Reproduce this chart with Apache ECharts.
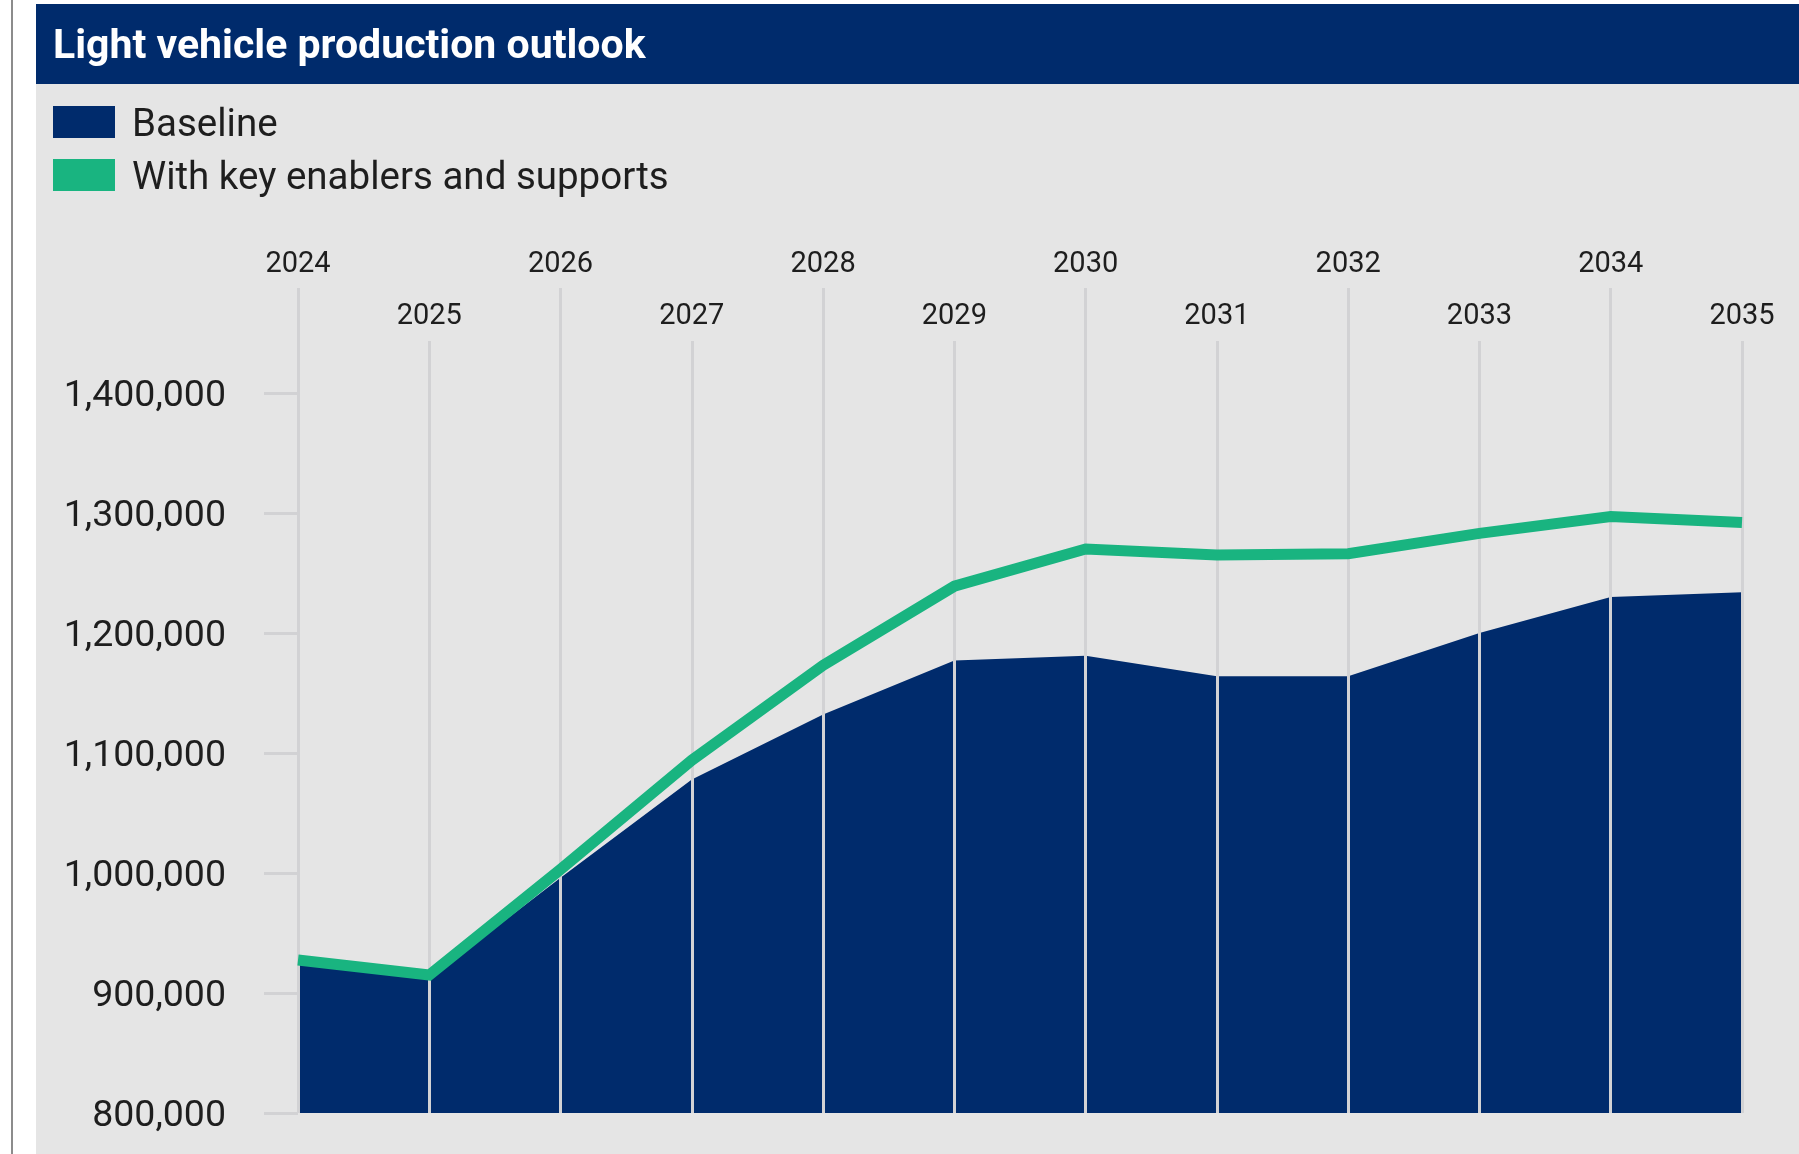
<!DOCTYPE html>
<html>
<head>
<meta charset="utf-8">
<script src="https://cdn.jsdelivr.net/npm/echarts@6/dist/echarts.min.js"></script>
<style>
  html, body { margin: 0; padding: 0; background: #ffffff; }
  #chart { width: 1799px; height: 1154px; }
</style>
</head>
<body>
<div id="chart"></div>
<script>
// ---- data ----
const years = ['2024', '2025', '2026', '2027', '2028', '2029', '2030', '2031', '2032', '2033', '2034', '2035'];
const baseline = [925000, 912000, 996000, 1078000, 1132000, 1177000, 1181000, 1164000, 1164000, 1200000, 1230000, 1234000];
const withEnablers = [927500, 915000, 1003000, 1094000, 1173000, 1239000, 1270000, 1265000, 1266000, 1283000, 1297000, 1292000];
const yMin = 800000;
const yMax = 1400000;
const yStep = 100000;
const seriesNames = ['Baseline', 'With key enablers and supports'];
const titleText = 'Light vehicle production outlook';

// ---- style ----
const NAVY = '#002b6c';
const GREEN = '#19b480';
const PANEL = '#e5e5e5';
const GRIDLINE = '#d2d2d4';
const TEXT = '#1e1e1e';
const FONT = "Roboto, 'Noto Sans', sans-serif";
// legend swatch: 62x32 filled rect sitting in the top of a 62x40 symbol box
const SWATCH = 'path://M0,0h62v32h-62z M0,40h0';

const chart = echarts.init(document.getElementById('chart'), null, { renderer: 'canvas' });

const xLabelBase = {
  fontFamily: FONT,
  fontSize: 29,
  lineHeight: 29,
  color: TEXT
};

const option = {
  backgroundColor: '#ffffff',
  animation: false,
  graphic: [
    { type: 'rect', z: -10, shape: { x: 11, y: 0, width: 2, height: 1154 }, style: { fill: '#8c8c8c' } },
    { type: 'rect', z: -10, shape: { x: 36, y: 4, width: 1763, height: 1150 }, style: { fill: PANEL } },
    { type: 'rect', z: -9, shape: { x: 36, y: 4, width: 1763, height: 80 }, style: { fill: NAVY } }
  ],
  title: {
    text: titleText,
    left: 53,
    top: 27,
    padding: 0,
    textStyle: { color: '#ffffff', fontFamily: FONT, fontWeight: 'bold', fontSize: 41, lineHeight: 41 }
  },
  legend: {
    orient: 'vertical',
    left: 53,
    top: 106,
    padding: 0,
    itemWidth: 62,
    itemHeight: 40,
    itemGap: 13,
    icon: SWATCH,
    itemStyle: { borderWidth: 0 },
    data: seriesNames,
    textStyle: { fontFamily: FONT, fontSize: 38.5, lineHeight: 32, color: TEXT, padding: [0, 0, 0, 12] }
  },
  grid: { left: 298, right: 57, top: 393, bottom: 41 },
  xAxis: [
    {
      type: 'category',
      data: years,
      position: 'top',
      boundaryGap: false,
      z: 3,
      axisLine: { show: false },
      axisTick: {
        show: true,
        length: 105,
        interval: (i) => i % 2 === 0,
        lineStyle: { color: GRIDLINE, width: 3 }
      },
      axisLabel: Object.assign({ interval: (i) => i % 2 === 0, margin: 114 }, xLabelBase),
      splitLine: { show: true, interval: 0, lineStyle: { color: GRIDLINE, width: 3 } }
    },
    {
      type: 'category',
      data: years,
      position: 'top',
      boundaryGap: false,
      z: 3,
      axisLine: { show: false },
      axisTick: {
        show: true,
        length: 52,
        interval: (i) => i % 2 === 1,
        lineStyle: { color: GRIDLINE, width: 3 }
      },
      axisLabel: Object.assign({ interval: (i) => i % 2 === 1, margin: 62 }, xLabelBase),
      splitLine: { show: false }
    }
  ],
  yAxis: {
    type: 'value',
    min: yMin,
    max: yMax,
    interval: yStep,
    axisLine: { show: false },
    axisTick: { show: true, length: 34, lineStyle: { color: GRIDLINE, width: 3 } },
    splitLine: { show: false },
    axisLabel: {
      margin: 72,
      fontFamily: FONT,
      fontSize: 37.5,
      color: TEXT,
      verticalAlign: 'top',
      lineHeight: 7,
      formatter: (v) => v.toLocaleString('en-US')
    }
  },
  series: [
    {
      name: seriesNames[0],
      type: 'line',
      data: baseline,
      xAxisIndex: 0,
      z: 1,
      color: NAVY,
      symbol: 'none',
      lineStyle: { width: 0 },
      areaStyle: { color: NAVY, opacity: 1, origin: 'start' }
    },
    {
      name: seriesNames[1],
      type: 'line',
      data: withEnablers,
      xAxisIndex: 0,
      z: 5,
      color: GREEN,
      symbol: 'none',
      lineStyle: { width: 11, color: GREEN, cap: 'butt', join: 'miter' }
    }
  ]
};

chart.setOption(option);
</script>
</body>
</html>
